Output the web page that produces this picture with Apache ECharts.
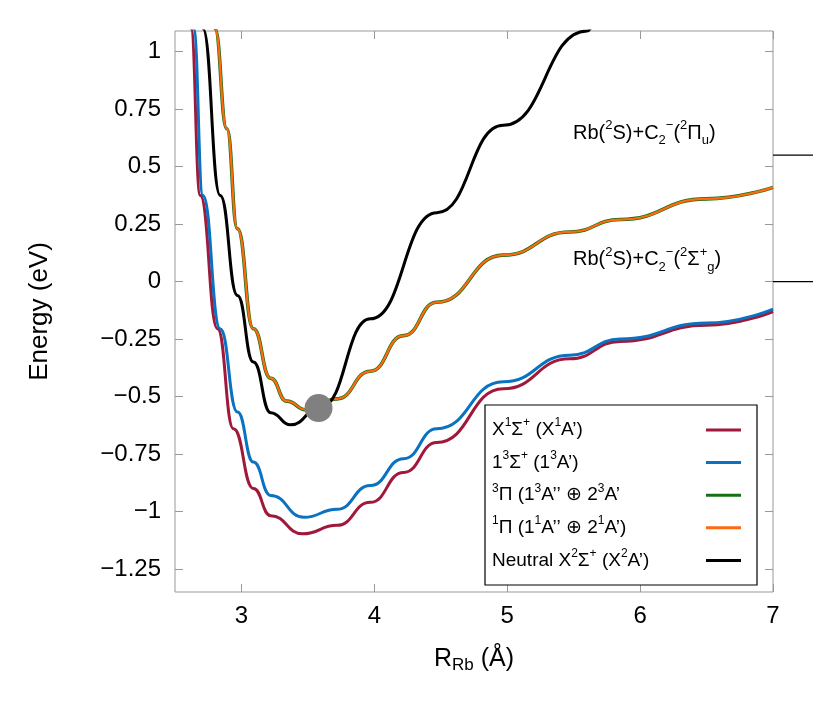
<!DOCTYPE html>
<html>
<head>
<meta charset="utf-8">
<script src="https://cdn.jsdelivr.net/npm/echarts@6/dist/echarts.min.js"></script>
<style>html,body{margin:0;padding:0;background:#fff}#main{width:830px;height:727px}</style>
</head>
<body>
<div id="main"></div>
<script>
// 数据 (R in Å, E in eV)
var xTicks = [3, 4, 5, 6, 7];
var yTicks = [-1.25, -1, -0.75, -0.5, -0.25, 0, 0.25, 0.5, 0.75, 1];

var redX = [2.60, 2.62, 2.69, 2.82, 2.94, 3.09, 3.22, 3.46, 3.72, 3.97, 4.22, 4.47, 4.97, 5.47, 5.85, 6.5, 7.0];
var redY = [1.25, 1.10, 0.375, -0.205, -0.64, -0.90, -1.018, -1.097, -1.06, -0.96, -0.83, -0.70, -0.466, -0.336, -0.26, -0.19, -0.13];

var blueX = [2.62, 2.64, 2.71, 2.84, 2.97, 3.09, 3.22, 3.47, 3.72, 3.97, 4.22, 4.47, 4.97, 5.47, 5.85, 6.5, 7.0];
var blueY = [1.25, 1.10, 0.375, -0.205, -0.567, -0.785, -0.93, -1.025, -0.99, -0.887, -0.77, -0.64, -0.436, -0.32, -0.25, -0.18, -0.12];

var piX = [2.78, 2.80, 2.89, 2.97, 3.09, 3.22, 3.34, 3.49, 3.72, 3.97, 4.22, 4.47, 4.97, 5.47, 5.85, 6.5, 7.0];
var piY = [1.25, 1.10, 0.665, 0.23, -0.205, -0.42, -0.52, -0.558, -0.51, -0.39, -0.235, -0.09, 0.115, 0.216, 0.27, 0.36, 0.41];

var neuX = [2.69, 2.71, 2.84, 2.97, 3.09, 3.22, 3.37, 3.60, 3.97, 4.47, 4.97, 5.60, 5.65];
var neuY = [1.25, 1.10, 0.375, -0.06, -0.35, -0.57, -0.623, -0.544, -0.162, 0.30, 0.68, 1.09, 1.13];

var crossPoint = [3.58, -0.55];
var asymptotes = [0.55, 0];

function pairs(xs, ys) {
    var out = [];
    for (var i = 0; i < xs.length; i++) out.push([xs[i], ys[i]]);
    return out;
}

var FONT = 'Liberation Sans';
var rich = {
    n: {fontSize: 19, fontFamily: FONT, color: '#000', verticalAlign: 'middle', lineHeight: 26},
    sup: {fontSize: 12, fontFamily: FONT, color: '#000', verticalAlign: 'top', lineHeight: 26},
    sub: {fontSize: 12, fontFamily: FONT, color: '#000', verticalAlign: 'bottom', lineHeight: 26}
};

var chart = echarts.init(document.getElementById('main'));

function lineSeries(name, data, color, width, z) {
    return {
        name: name, type: 'line', data: data, smooth: 0.5, smoothMonotone: 'x', showSymbol: false,
        lineStyle: {color: color, width: width}, z: z, clip: true
    };
}

var tickStyle = {color: '#999'};
var option = {
    animation: false,
    grid: {left: 175, right: 57, top: 31, bottom: 135, show: true, borderColor: '#999', borderWidth: 1},
    xAxis: [{
        type: 'value', min: 2.5, max: 7,
        axisLine: {show: false, onZero: false},
        axisTick: {show: true, inside: true, length: 8, lineStyle: tickStyle, customValues: xTicks},
        axisLabel: {fontSize: 24, fontFamily: FONT, color: '#000', margin: 12, customValues: xTicks},
        splitLine: {show: false},
        name: '{n|R}{s|Rb}{n| (Å)}', nameLocation: 'middle', nameGap: 52,
        nameTextStyle: {rich: {n: {fontSize: 25, fontFamily: FONT, color: '#000', verticalAlign: 'middle', lineHeight: 30},
                               s: {fontSize: 17, fontFamily: FONT, color: '#000', verticalAlign: 'bottom', lineHeight: 30}}}
    }, {
        type: 'value', min: 2.5, max: 7, position: 'top',
        axisLine: {show: false, onZero: false}, axisLabel: {show: false}, splitLine: {show: false},
        axisTick: {show: true, inside: true, length: 8, lineStyle: tickStyle, customValues: xTicks}
    }],
    yAxis: [{
        type: 'value', min: -1.35, max: 1.09,
        axisLine: {show: false, onZero: false},
        axisTick: {show: true, inside: true, length: 8, lineStyle: tickStyle, customValues: yTicks},
        axisLabel: {fontSize: 24, fontFamily: FONT, color: '#000', margin: 14, customValues: yTicks,
            formatter: function (v) { return String(v).replace('-', '\u2212'); }},
        splitLine: {show: false},
        name: 'Energy (eV)', nameLocation: 'middle', nameGap: 122,
        nameTextStyle: {fontSize: 26, fontFamily: FONT, color: '#000'}
    }, {
        type: 'value', min: -1.35, max: 1.09, position: 'right',
        axisLine: {show: false, onZero: false}, axisLabel: {show: false}, splitLine: {show: false},
        axisTick: {show: true, inside: true, length: 8, lineStyle: tickStyle, customValues: yTicks}
    }],
    series: [
        lineSeries('X1', pairs(redX, redY), '#a0193b', 3, 2),
        lineSeries('13', pairs(blueX, blueY), '#0a72c0', 3, 3),
        lineSeries('3Pi', pairs(piX, piY), '#157015', 3.6, 4),
        lineSeries('1Pi', pairs(piX, piY), '#ff6a10', 2.2, 5),
        lineSeries('neutral', pairs(neuX, neuY), '#000', 3, 6),
        {type: 'scatter', data: [crossPoint], symbolSize: 28, itemStyle: {color: '#808080', opacity: 1}, z: 7}
    ]
};
chart.setOption(option);

// 图例和右侧标注
var legendRows = [
    ['{n|X}{sup|1}{n|Σ}{sup|+}{n| (X}{sup|1}{n|A’)}', '#a0193b'],
    ['{n|1}{sup|3}{n|Σ}{sup|+}{n| (1}{sup|3}{n|A’)}', '#0a72c0'],
    ['{sup|3}{n|Π (1}{sup|3}{n|A’’ ⊕ 2}{sup|3}{n|A’}', '#157015'],
    ['{sup|1}{n|Π (1}{sup|1}{n|A’’ ⊕ 2}{sup|1}{n|A’)}', '#ff6a10'],
    ['{n|Neutral X}{sup|2}{n|Σ}{sup|+}{n| (X}{sup|2}{n|A’)}', '#000']
];
var graphics = [{
    type: 'rect', shape: {x: 485, y: 405, width: 272, height: 180},
    style: {fill: '#fff', stroke: '#000', lineWidth: 1.2}, z: 100
}];
legendRows.forEach(function (r, i) {
    var y = 430 + i * 32.6;
    graphics.push({type: 'text', x: 492, y: y, z: 101,
        style: {text: r[0], rich: rich, verticalAlign: 'middle', align: 'left'}});
    graphics.push({type: 'line', z: 101, shape: {x1: 706, y1: y, x2: 741, y2: y},
        style: {stroke: r[1], lineWidth: 3}});
});

var labelRich = {
    n: {fontSize: 20, fontFamily: FONT, color: '#000', verticalAlign: 'middle', lineHeight: 28},
    sup: {fontSize: 13, fontFamily: FONT, color: '#000', verticalAlign: 'top', lineHeight: 28},
    sub: {fontSize: 13, fontFamily: FONT, color: '#000', verticalAlign: 'bottom', lineHeight: 28}
};
var labels = [
    '{n|Rb(}{sup|2}{n|S)+C}{sub|2}{sup|−}{n|(}{sup|2}{n|Π}{sub|u}{n|)}',
    '{n|Rb(}{sup|2}{n|S)+C}{sub|2}{sup|−}{n|(}{sup|2}{n|Σ}{sup|+}{sub|g}{n|)}'
];
asymptotes.forEach(function (e, i) {
    var p = chart.convertToPixel({gridIndex: 0}, [7, e]);
    graphics.push({type: 'line', z: 101, shape: {x1: p[0], y1: p[1], x2: p[0] + 40, y2: p[1]},
        style: {stroke: '#000', lineWidth: 1.2}});
    graphics.push({type: 'text', x: 573, y: p[1] - 22, z: 101,
        style: {text: labels[i], rich: labelRich, verticalAlign: 'middle', align: 'left'}});
});
chart.setOption({graphic: graphics});
</script>
</body>
</html>
